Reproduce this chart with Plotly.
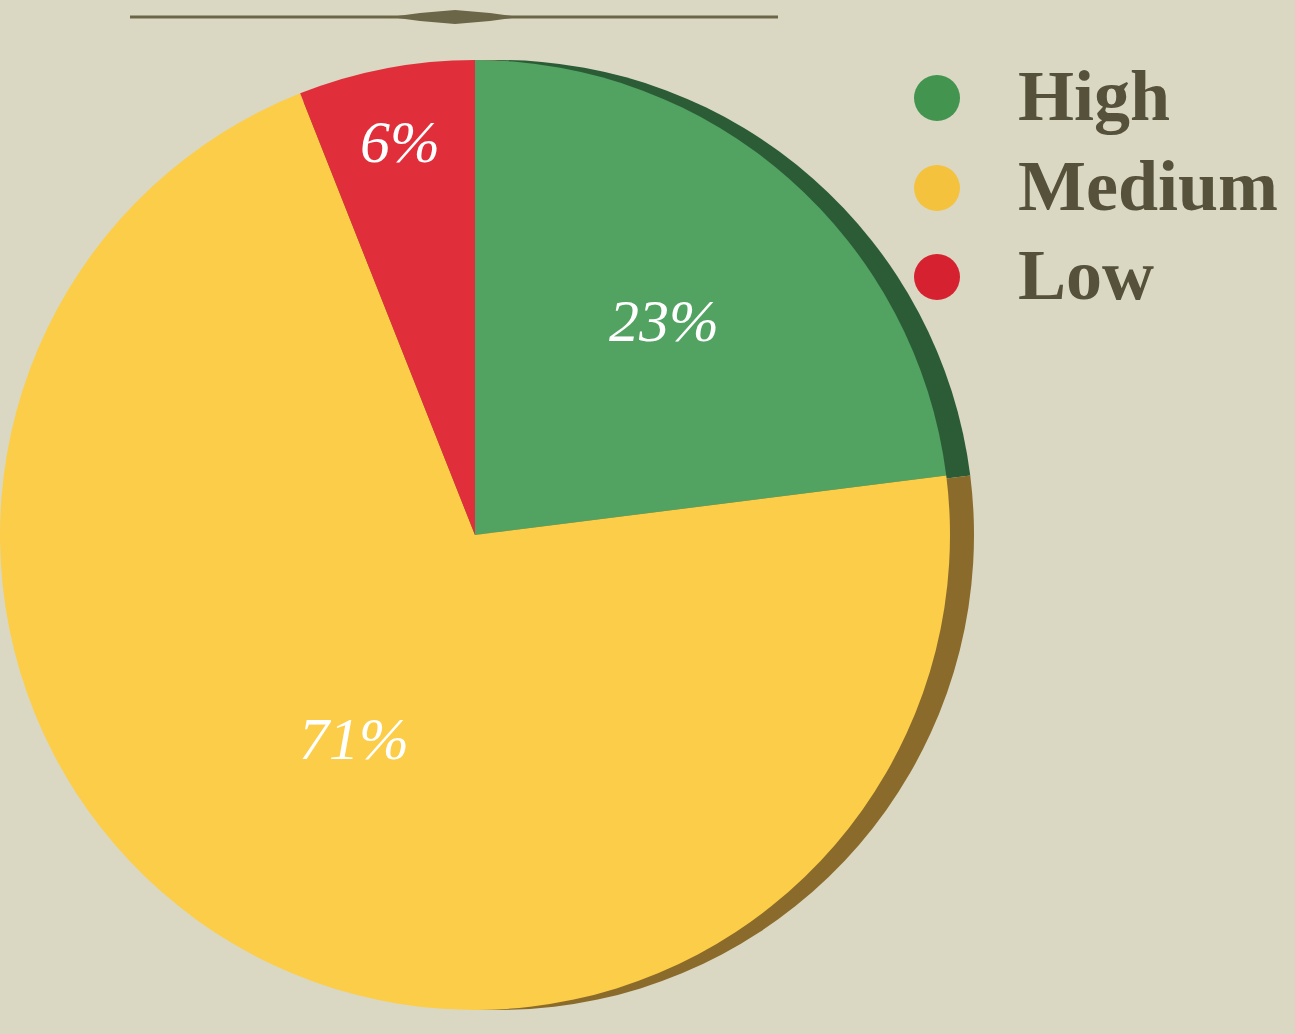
import plotly.graph_objects as go

# ---- data ----
categories = ["High", "Medium", "Low"]
values = [23, 71, 6]
face_colors = ["#52a262", "#fccd48", "#e02f3b"]
edge_colors = ["#2b5c35", "#8a6b2b", "#8a2a2c"]
legend_colors = ["#42944f", "#f4c23d", "#d62230"]

W, H = 1295, 1034
bg = "#dad8c3"
text_dark = "#56513a"

fig = go.Figure()

# shadow / 3D edge pie (behind)
fig.add_trace(go.Pie(
    labels=categories, values=values, sort=False, direction="clockwise", rotation=0,
    marker=dict(colors=edge_colors, line=dict(width=0)),
    textinfo="none", hoverinfo="skip", showlegend=False,
    domain=dict(x=[24 / W, 974 / W], y=[(H - 1010) / H, (H - 60) / H]),
))

# main pie face
fig.add_trace(go.Pie(
    labels=categories, values=values, sort=False, direction="clockwise", rotation=0,
    marker=dict(colors=face_colors, line=dict(width=0)),
    textinfo="percent", textposition="inside", insidetextorientation="horizontal",
    textfont=dict(family="Liberation Serif", size=60, color="white", style="italic"),
    showlegend=False,
    domain=dict(x=[0, 950 / W], y=[(H - 1010) / H, (H - 60) / H]),
))

shapes = []
annotations = []
# decorative title rule with diamond
ly = 1 - 17 / H
shapes.append(dict(type="line", xref="paper", yref="paper",
                   x0=130 / W, x1=778 / W, y0=ly, y1=ly,
                   line=dict(color="#6b6647", width=3)))
dx = 455 / W
shapes.append(dict(type="path", xref="paper", yref="paper",
                   path=(f"M {390 / W} {ly} L {420 / W} {ly + 4 / H} L {dx} {ly + 7 / H} "
                         f"L {490 / W} {ly + 4 / H} L {520 / W} {ly} L {490 / W} {ly - 4 / H} "
                         f"L {dx} {ly - 7 / H} L {420 / W} {ly - 4 / H} Z"),
                   fillcolor="#6b6647", line=dict(width=0)))

# custom legend (circle markers + bold serif labels)
legend_y = [98, 188, 277]
for name, col, yy in zip(categories, legend_colors, legend_y):
    r = 23
    shapes.append(dict(type="circle", xref="paper", yref="paper",
                       x0=(937 - r) / W, x1=(937 + r) / W,
                       y0=1 - (yy + r) / H, y1=1 - (yy - r) / H,
                       fillcolor=col, line=dict(width=0)))
    annotations.append(dict(text=f"<b>{name}</b>", xref="paper", yref="paper",
                            x=1016 / W, y=1 - (yy - 2) / H, xanchor="left", yanchor="middle",
                            showarrow=False,
                            font=dict(family="Liberation Serif", size=72, color=text_dark)))

fig.update_layout(
    width=W, height=H,
    margin=dict(l=0, r=0, t=0, b=0),
    paper_bgcolor=bg, plot_bgcolor=bg,
    shapes=shapes, annotations=annotations,
    showlegend=False,
)

fig.write_html(
    "out.html",
    config={"displayModeBar": False},
    post_script="document.body.style.margin='0';document.body.style.background='#dad8c3';",
)
